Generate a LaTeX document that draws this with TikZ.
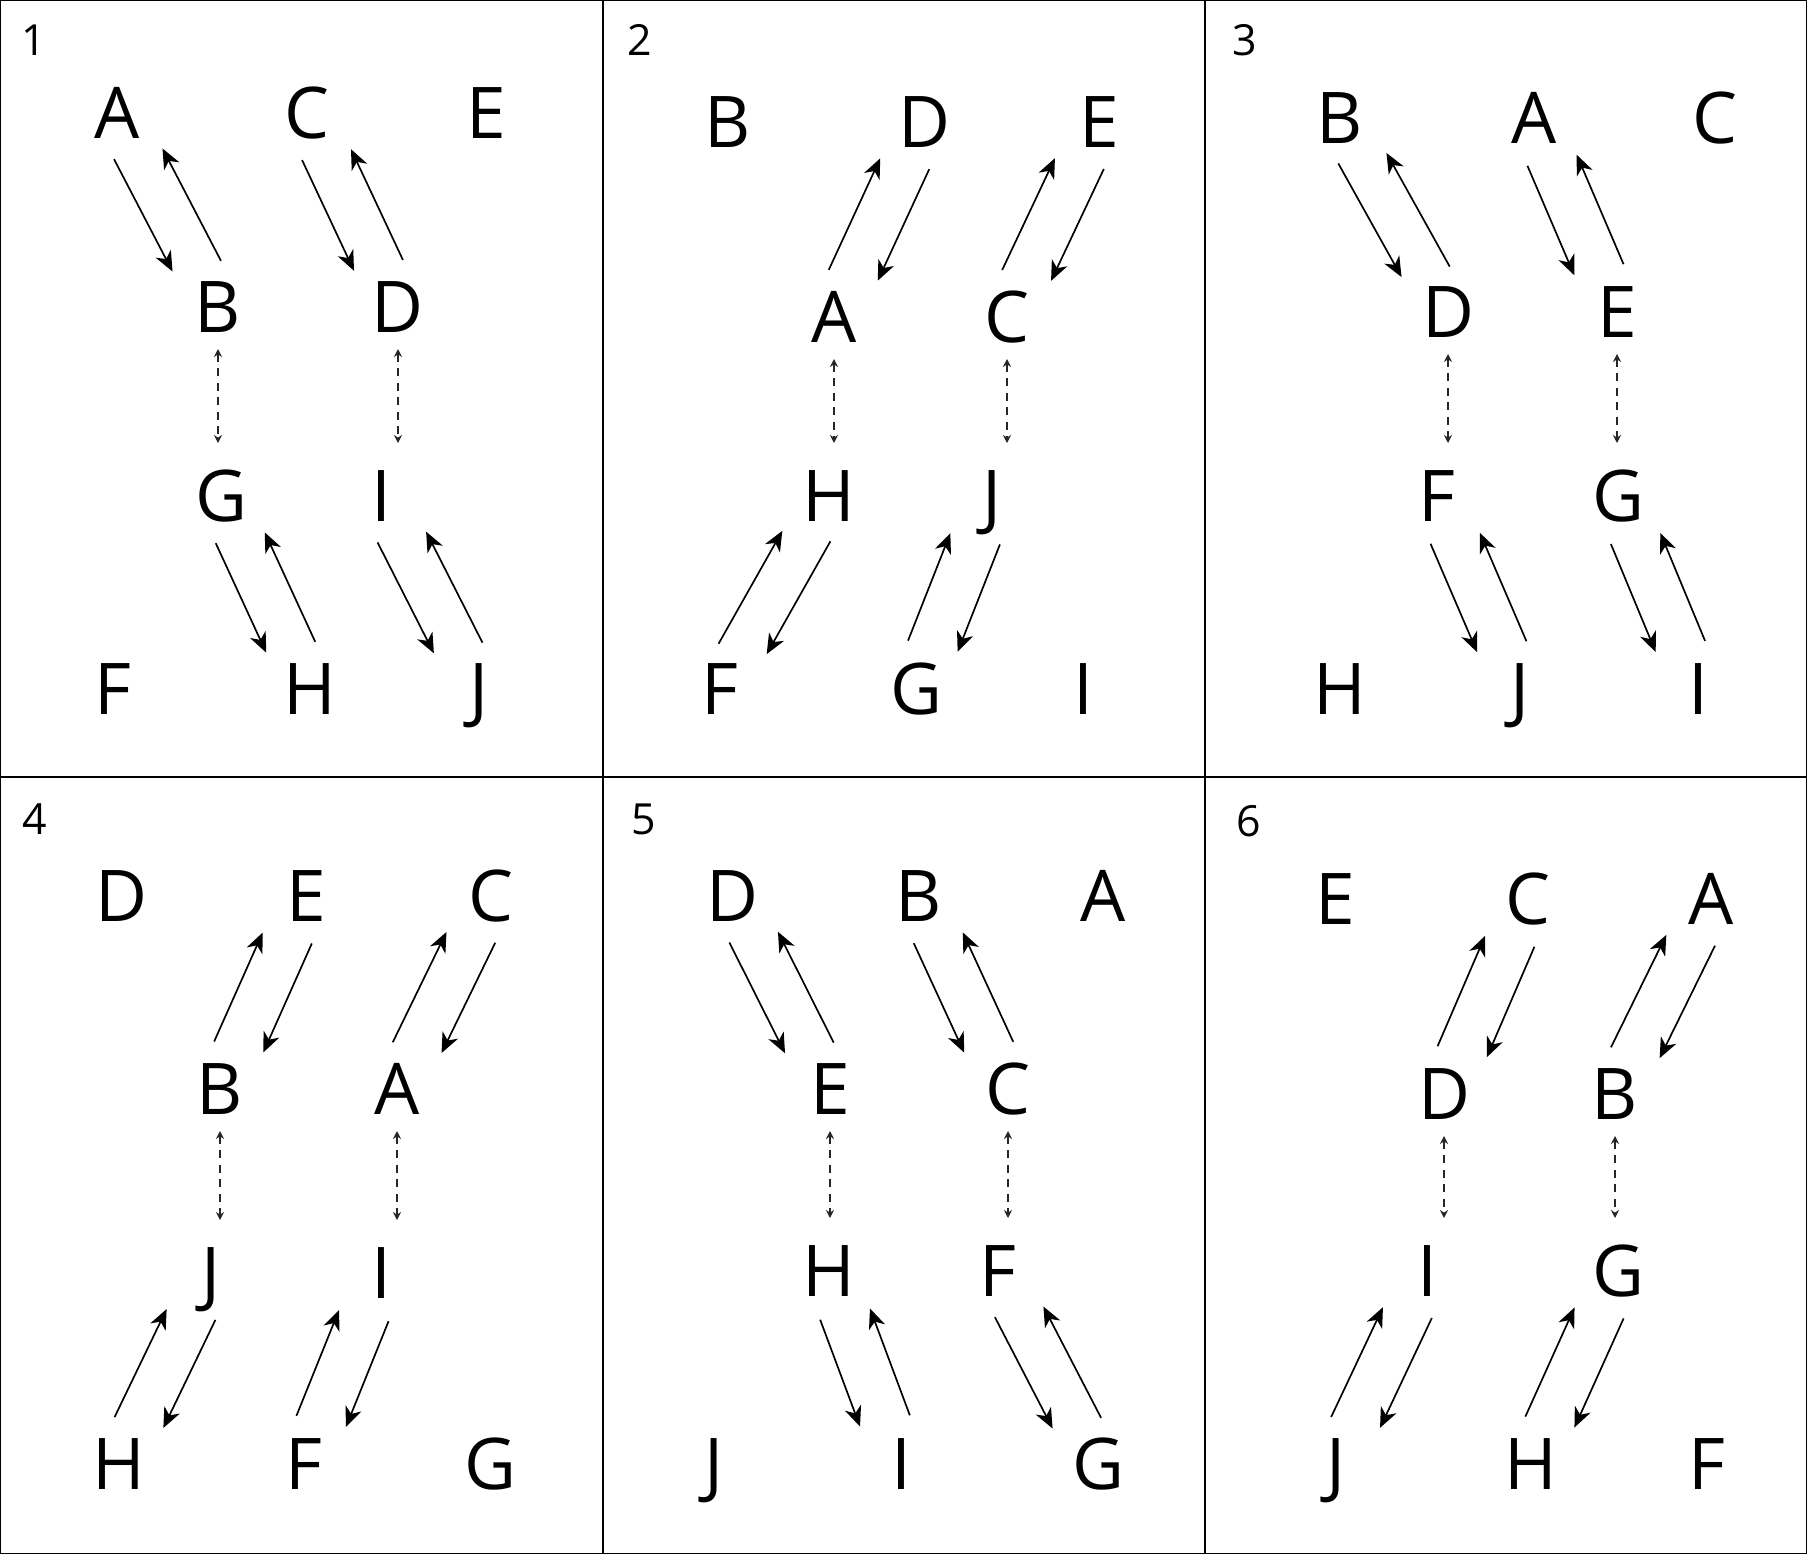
\documentclass[tikz,border=0pt]{standalone}
\usepackage{fontspec}
\setmainfont{Open Sans}
\usetikzlibrary{arrows.meta}

\tikzset{
  ltr/.style={font=\fontsize{20.3}{20}\selectfont, inner sep=0pt, text height=5.1mm, text depth=0pt},
  num/.style={font=\fontsize{12.2}{12}\selectfont, inner sep=0pt, text height=3.1mm, text depth=0pt},
  tip/.style={-{Stealth[length=2mm, width=1.7mm, inset=0.6mm]}, line width=0.48pt, shorten <=5.2mm, shorten >=4mm},
  lft/.style={transform canvas={xshift=-2.7mm}},
  rgt/.style={transform canvas={xshift=2.7mm}},
  dsh/.style={{Stealth[length=0.8mm, width=0.8mm]}-{Stealth[length=0.8mm, width=0.8mm]}, line width=0.35pt, dash pattern=on 0.8mm off 0.65mm, black!85, shorten <=4.2mm, shorten >=5.3mm},
}

\begin{document}
\begin{tikzpicture}[x=0.1mm, y=-0.1mm]
    \useasboundingbox (0,0) rectangle (1807,1554);
    % frames
    \draw[line width=0.5pt] (0.5,0.5) rectangle (1806.5,1553.5);
    \draw[line width=0.5pt] (603,0) -- (603,1554);
    \draw[line width=0.5pt] (1205,0) -- (1205,1554);
    \draw[line width=0.5pt] (0,777) -- (1807,777);

    % panel 1
    \node[num] (n1) at (34,40) {1};
    \node[ltr] (p1A) at (117,113) {A};
    \node[ltr] (p1C) at (307,113) {C};
    \node[ltr] (p1E) at (486,113) {E};
    \node[ltr] (p1B) at (218,307) {B};
    \node[ltr] (p1D) at (398,307) {D};
    \node[ltr] (p1G) at (221,496) {G};
    \node[ltr] (p1I) at (381,496) {I};
    \node[ltr] (p1F) at (113,689) {F};
    \node[ltr] (p1H) at (310,689) {H};
    \node[ltr] (p1J) at (479,689) {J};
    \draw[tip, lft] (p1A.center) -- (p1B.center);
    \draw[tip, rgt] (p1B.center) -- (p1A.center);
    \draw[tip, lft] (p1C.center) -- (p1D.center);
    \draw[tip, rgt] (p1D.center) -- (p1C.center);
    \draw[tip, lft] (p1G.center) -- (p1H.center);
    \draw[tip, rgt] (p1H.center) -- (p1G.center);
    \draw[tip, lft] (p1I.center) -- (p1J.center);
    \draw[tip, rgt] (p1J.center) -- (p1I.center);
    \draw[dsh] (p1B.center) -- (p1B.center |- p1G.center);
    \draw[dsh] (p1D.center) -- (p1D.center |- p1I.center);

    % panel 2
    \node[num] (n2) at (640,40) {2};
    \node[ltr] (p2B) at (728,122) {B};
    \node[ltr] (p2D) at (924,122) {D};
    \node[ltr] (p2E) at (1099,122) {E};
    \node[ltr] (p2A) at (834,317) {A};
    \node[ltr] (p2C) at (1007,317) {C};
    \node[ltr] (p2H) at (829,496) {H};
    \node[ltr] (p2J) at (992,496) {J};
    \node[ltr] (p2F) at (720,689) {F};
    \node[ltr] (p2G) at (916,689) {G};
    \node[ltr] (p2I) at (1083,689) {I};
    \draw[tip, lft] (p2A.center) -- (p2D.center);
    \draw[tip, rgt] (p2D.center) -- (p2A.center);
    \draw[tip, lft] (p2C.center) -- (p2E.center);
    \draw[tip, rgt] (p2E.center) -- (p2C.center);
    \draw[tip, lft] (p2F.center) -- (p2H.center);
    \draw[tip, rgt] (p2H.center) -- (p2F.center);
    \draw[tip, lft] (p2G.center) -- (p2J.center);
    \draw[tip, rgt] (p2J.center) -- (p2G.center);
    \draw[dsh] (p2A.center) -- (p2A.center |- p2H.center);
    \draw[dsh] (p2C.center) -- (p2C.center |- p2J.center);

    % panel 3
    \node[num] (n3) at (1245,40) {3};
    \node[ltr] (p3B) at (1340,118) {B};
    \node[ltr] (p3A) at (1534,118) {A};
    \node[ltr] (p3C) at (1715,118) {C};
    \node[ltr] (p3D) at (1448,312) {D};
    \node[ltr] (p3E) at (1617,312) {E};
    \node[ltr] (p3F) at (1437,496) {F};
    \node[ltr] (p3G) at (1618,496) {G};
    \node[ltr] (p3H) at (1340,689) {H};
    \node[ltr] (p3J) at (1520,689) {J};
    \node[ltr] (p3I) at (1698,689) {I};
    \draw[tip, lft] (p3B.center) -- (p3D.center);
    \draw[tip, rgt] (p3D.center) -- (p3B.center);
    \draw[tip, lft] (p3A.center) -- (p3E.center);
    \draw[tip, rgt] (p3E.center) -- (p3A.center);
    \draw[tip, lft] (p3F.center) -- (p3J.center);
    \draw[tip, rgt] (p3J.center) -- (p3F.center);
    \draw[tip, lft] (p3G.center) -- (p3I.center);
    \draw[tip, rgt] (p3I.center) -- (p3G.center);
    \draw[dsh] (p3D.center) -- (p3D.center |- p3F.center);
    \draw[dsh] (p3E.center) -- (p3E.center |- p3G.center);

    % panel 4
    \node[num] (n4) at (35,819) {4};
    \node[ltr] (p4D) at (122,896) {D};
    \node[ltr] (p4E) at (306,896) {E};
    \node[ltr] (p4C) at (491,896) {C};
    \node[ltr] (p4B) at (220,1089) {B};
    \node[ltr] (p4A) at (397,1089) {A};
    \node[ltr] (p4J) at (211,1273) {J};
    \node[ltr] (p4I) at (381,1273) {I};
    \node[ltr] (p4H) at (119,1464) {H};
    \node[ltr] (p4F) at (304,1464) {F};
    \node[ltr] (p4G) at (490,1464) {G};
    \draw[tip, lft] (p4B.center) -- (p4E.center);
    \draw[tip, rgt] (p4E.center) -- (p4B.center);
    \draw[tip, lft] (p4A.center) -- (p4C.center);
    \draw[tip, rgt] (p4C.center) -- (p4A.center);
    \draw[tip, lft] (p4H.center) -- (p4J.center);
    \draw[tip, rgt] (p4J.center) -- (p4H.center);
    \draw[tip, lft] (p4F.center) -- (p4I.center);
    \draw[tip, rgt] (p4I.center) -- (p4F.center);
    \draw[dsh] (p4B.center) -- (p4B.center |- p4J.center);
    \draw[dsh] (p4A.center) -- (p4A.center |- p4I.center);

    % panel 5
    \node[num] (n5) at (644,819) {5};
    \node[ltr] (p5D) at (733,896) {D};
    \node[ltr] (p5B) at (919,896) {B};
    \node[ltr] (p5A) at (1103,896) {A};
    \node[ltr] (p5E) at (830,1089) {E};
    \node[ltr] (p5C) at (1008,1089) {C};
    \node[ltr] (p5H) at (829,1271) {H};
    \node[ltr] (p5F) at (998,1271) {F};
    \node[ltr] (p5J) at (714,1464) {J};
    \node[ltr] (p5I) at (901,1464) {I};
    \node[ltr] (p5G) at (1098,1464) {G};
    \draw[tip, lft] (p5D.center) -- (p5E.center);
    \draw[tip, rgt] (p5E.center) -- (p5D.center);
    \draw[tip, lft] (p5B.center) -- (p5C.center);
    \draw[tip, rgt] (p5C.center) -- (p5B.center);
    \draw[tip, lft] (p5H.center) -- (p5I.center);
    \draw[tip, rgt] (p5I.center) -- (p5H.center);
    \draw[tip, lft] (p5F.center) -- (p5G.center);
    \draw[tip, rgt] (p5G.center) -- (p5F.center);
    \draw[dsh] (p5E.center) -- (p5E.center |- p5H.center);
    \draw[dsh] (p5C.center) -- (p5C.center |- p5F.center);

    % panel 6
    \node[num] (n6) at (1249,821) {6};
    \node[ltr] (p6E) at (1335,899) {E};
    \node[ltr] (p6C) at (1528,899) {C};
    \node[ltr] (p6A) at (1711,899) {A};
    \node[ltr] (p6D) at (1444,1094) {D};
    \node[ltr] (p6B) at (1615,1094) {B};
    \node[ltr] (p6I) at (1427,1271) {I};
    \node[ltr] (p6G) at (1618,1271) {G};
    \node[ltr] (p6J) at (1336,1464) {J};
    \node[ltr] (p6H) at (1531,1464) {H};
    \node[ltr] (p6F) at (1707,1464) {F};
    \draw[tip, lft] (p6D.center) -- (p6C.center);
    \draw[tip, rgt] (p6C.center) -- (p6D.center);
    \draw[tip, lft] (p6B.center) -- (p6A.center);
    \draw[tip, rgt] (p6A.center) -- (p6B.center);
    \draw[tip, lft] (p6J.center) -- (p6I.center);
    \draw[tip, rgt] (p6I.center) -- (p6J.center);
    \draw[tip, lft] (p6H.center) -- (p6G.center);
    \draw[tip, rgt] (p6G.center) -- (p6H.center);
    \draw[dsh] (p6D.center) -- (p6D.center |- p6I.center);
    \draw[dsh] (p6B.center) -- (p6B.center |- p6G.center);
\end{tikzpicture}
\end{document}
